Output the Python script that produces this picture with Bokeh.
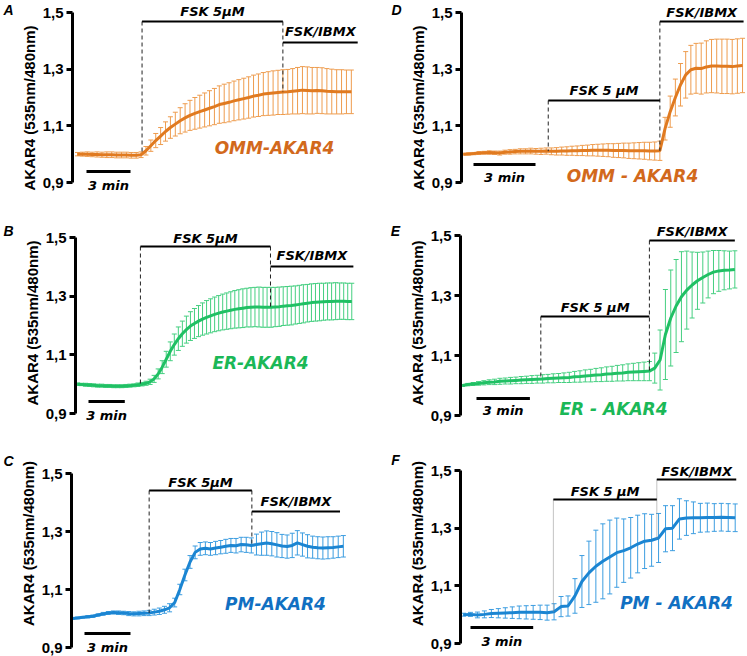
import numpy as np
from bokeh.plotting import figure
from bokeh.models import (Range1d, FixedTicker, CustomJSTickFormatter, Whisker,
                          TeeHead, ColumnDataSource)
from bokeh.layouts import column, row
from bokeh.core.properties import value
from bokeh.embed import file_html
from bokeh.resources import INLINE

# ------------------------------------------------------------------ data
# sampling interval (min), mean ratio and SEM for each panel
dt_A = 1 / 3
mean_A = [1.000, 1.000, 1.000, 0.999, 0.999, 0.998, 0.998, 0.998, 0.997, 0.997, 0.997, 0.996, 0.996, 0.998,
          1.012, 1.030, 1.048, 1.064, 1.080, 1.094, 1.106, 1.118, 1.128, 1.137, 1.144, 1.150, 1.156, 1.162, 1.168, 1.175,
          1.179, 1.183, 1.188, 1.192, 1.196, 1.200, 1.205, 1.208, 1.212, 1.214, 1.216, 1.218, 1.219,
          1.220, 1.222, 1.224, 1.226, 1.225, 1.224, 1.225, 1.224, 1.222, 1.221, 1.220, 1.220, 1.220, 1.220]
err_A = [0.006, 0.007, 0.008, 0.008, 0.009, 0.009, 0.010, 0.010, 0.010, 0.010, 0.010, 0.010, 0.010, 0.010,
         0.015, 0.020, 0.025, 0.030, 0.034, 0.038, 0.042, 0.046, 0.050, 0.053, 0.056, 0.058, 0.060, 0.062, 0.064, 0.066,
         0.068, 0.069, 0.070, 0.071, 0.072, 0.073, 0.074, 0.075, 0.076, 0.077, 0.078, 0.078, 0.079,
         0.079, 0.080, 0.082, 0.083, 0.083, 0.082, 0.081, 0.081, 0.080, 0.079, 0.078, 0.078, 0.077, 0.077]
treat_A = [4.4, 14.0, 19.1]   # FSK start, FSK/IBMX start, end (min)

dt_D = 0.25
mean_D = [1.000, 1.001, 1.002, 1.004, 1.005, 1.006, 1.005, 1.004, 1.007, 1.008, 1.009, 1.010, 1.010, 1.011, 1.010, 1.010, 1.011,
          1.010, 1.010, 1.011, 1.011, 1.012, 1.012, 1.013, 1.013, 1.014, 1.014, 1.014, 1.014, 1.013, 1.013, 1.013, 1.012,
          1.012, 1.012, 1.012, 1.011, 1.011, 1.012,
          1.090, 1.150, 1.200, 1.245, 1.280, 1.298, 1.303, 1.302, 1.308, 1.311, 1.311, 1.310, 1.310, 1.309, 1.311, 1.313]
err_D = [0.003, 0.004, 0.004, 0.005, 0.005, 0.006, 0.006, 0.007, 0.007, 0.008, 0.008, 0.009, 0.009, 0.010, 0.010, 0.011, 0.011,
         0.012, 0.013, 0.014, 0.015, 0.016, 0.017, 0.018, 0.019, 0.020, 0.021, 0.022, 0.023, 0.024, 0.025, 0.026, 0.027,
         0.028, 0.029, 0.030, 0.031, 0.032, 0.034,
         0.040, 0.055, 0.065, 0.075, 0.082, 0.086, 0.088, 0.090, 0.092, 0.094, 0.095, 0.096, 0.096, 0.096, 0.096, 0.096]
treat_D = [4.1, 9.5, 13.55]

dt_B = 1 / 3
mean_B = [1.000, 0.999, 0.998, 0.997, 0.996, 0.995, 0.995, 0.994, 0.994, 0.993, 0.993, 0.993, 0.994, 0.995, 0.996, 0.998, 1.000,
          1.003, 1.008, 1.018, 1.035, 1.058, 1.085, 1.112, 1.135, 1.155, 1.172, 1.186, 1.198, 1.207, 1.215, 1.222, 1.228,
          1.233, 1.238, 1.242, 1.246, 1.249, 1.252, 1.255, 1.257, 1.259, 1.261, 1.262, 1.263, 1.263, 1.262, 1.262, 1.262,
          1.263, 1.264, 1.266, 1.267, 1.268, 1.270, 1.272, 1.274, 1.276, 1.278, 1.279, 1.280, 1.281, 1.282, 1.282, 1.283,
          1.283, 1.283, 1.282, 1.282]
err_B = [0.004, 0.004, 0.005, 0.005, 0.005, 0.005, 0.005, 0.005, 0.005, 0.005, 0.005, 0.005, 0.005, 0.005, 0.005, 0.006, 0.006,
         0.007, 0.009, 0.012, 0.017, 0.022, 0.027, 0.032, 0.036, 0.040, 0.043, 0.046, 0.049, 0.051, 0.053, 0.055, 0.057,
         0.058, 0.059, 0.060, 0.061, 0.062, 0.063, 0.064, 0.065, 0.066, 0.066, 0.067, 0.067, 0.068, 0.068, 0.068, 0.068,
         0.067, 0.067, 0.066, 0.066, 0.066, 0.065, 0.065, 0.065, 0.064, 0.064, 0.064, 0.064, 0.063, 0.063, 0.063, 0.063,
         0.062, 0.062, 0.062, 0.062]
treat_B = [5.2, 15.95, 22.8]

dt_E = 0.3
mean_E = [1.000, 1.003, 1.005, 1.007, 1.009, 1.011, 1.012, 1.014, 1.015, 1.016, 1.017, 1.018, 1.019, 1.020, 1.021, 1.022,
          1.023, 1.024, 1.025, 1.026, 1.027, 1.029, 1.030, 1.032, 1.033, 1.035, 1.036, 1.038, 1.039, 1.041, 1.042, 1.044,
          1.045, 1.046, 1.047, 1.048,
          1.058, 1.085, 1.170, 1.225, 1.265, 1.296, 1.318, 1.335, 1.349, 1.360, 1.370, 1.378, 1.382, 1.384, 1.385, 1.387]
err_E = [0.003, 0.004, 0.005, 0.006, 0.007, 0.008, 0.009, 0.010, 0.010, 0.011, 0.011, 0.012, 0.012, 0.013, 0.013, 0.014,
         0.014, 0.015, 0.015, 0.016, 0.017, 0.018, 0.019, 0.020, 0.021, 0.022, 0.023, 0.024, 0.025, 0.026, 0.027, 0.028,
         0.029, 0.030, 0.031, 0.032,
         0.050, 0.100, 0.150, 0.160, 0.155, 0.150, 0.130, 0.110, 0.095, 0.085, 0.078, 0.072, 0.068, 0.065, 0.063, 0.062]
treat_E = [4.4, 10.5, 15.3]

dt_C = 1 / 3
mean_C = [1.000, 1.002, 1.004, 1.006, 1.008, 1.012, 1.016, 1.019, 1.021, 1.020, 1.019, 1.017, 1.016, 1.017, 1.018, 1.019,
          1.022, 1.025, 1.030, 1.037, 1.055, 1.100, 1.150, 1.195, 1.228, 1.240, 1.242, 1.240, 1.243, 1.246, 1.249, 1.252,
          1.251, 1.255, 1.254, 1.252,
          1.255, 1.258, 1.260, 1.258, 1.254, 1.250, 1.248, 1.252, 1.261, 1.255, 1.249, 1.246, 1.244, 1.243, 1.244, 1.245,
          1.247, 1.249]
err_C = [0.002, 0.003, 0.003, 0.004, 0.004, 0.004, 0.005, 0.005, 0.005, 0.006, 0.006, 0.007, 0.007, 0.008, 0.008, 0.009,
         0.010, 0.011, 0.012, 0.014, 0.015, 0.018, 0.020, 0.022, 0.022, 0.022, 0.022, 0.022, 0.023, 0.023, 0.024, 0.024,
         0.025, 0.025, 0.026, 0.026,
         0.036, 0.040, 0.042, 0.042, 0.042, 0.040, 0.040, 0.042, 0.042, 0.040, 0.040, 0.038, 0.038, 0.038, 0.038, 0.037,
         0.037, 0.037]
treat_C = [5.0, 11.7, 17.45]

dt_F = 1 / 3
mean_F = [1.000, 1.001, 0.999, 1.001, 1.004, 1.005, 1.006, 1.007, 1.008, 1.008, 1.008, 1.008, 1.007, 1.010,
          1.028, 1.030, 1.065, 1.115, 1.145, 1.168, 1.185, 1.200, 1.215, 1.222, 1.232, 1.245, 1.255, 1.258, 1.266,
          1.298, 1.300, 1.332, 1.335, 1.336, 1.336, 1.337, 1.337, 1.338, 1.337, 1.336]
err_F = [0.005, 0.007, 0.010, 0.012, 0.014, 0.016, 0.018, 0.020, 0.022, 0.023, 0.024, 0.025, 0.026, 0.028,
         0.035, 0.035, 0.060, 0.090, 0.110, 0.125, 0.130, 0.128, 0.120, 0.110, 0.105, 0.100, 0.095, 0.090, 0.085,
         0.080, 0.078, 0.070, 0.060, 0.055, 0.050, 0.050, 0.048, 0.048, 0.048, 0.048]
treat_F = [4.3, 9.25, 13.05]

y_ticks = [0.9, 1.1, 1.3, 1.5]
scale_min = 3

ORANGE = ("#E07A20", "#EE9C4E", "#D2691C")
GREEN = ("#20C064", "#45CF80", "#1BB857")
BLUE = ("#1B85D2", "#3C9DE0", "#1170C2")

# ------------------------------------------------------------------ layout
# column: origin (px), total width, width of the letter strip
COLS = [dict(ox=0, W=373, LW=16), dict(ox=373, W=374, LW=32)]
ROWS = [dict(oy=0, H=215), dict(oy=215, H=215), dict(oy=430, H=226)]

panels = [
    dict(key="A", mean=mean_A, err=err_A, dt=dt_A, treat=treat_A, name="OMM-AKAR4", fsk="FSK 5µM", colors=ORANGE,
         col=0, row=0, cal=(72, 77, 14.67, 12, 182), fsk_bar=21, ibmx_bar=42, fsk_txt=11, ibmx_txt=31,
         scale=(86, 171), scale_txt=185, name_xy=(274, 147), letter=(8, 9), dash=("4 3", "#222222")),
    dict(key="D", mean=mean_D, err=err_D, dt=dt_D, treat=treat_D, name="OMM - AKAR4", fsk="FSK 5 µM", colors=ORANGE,
         col=1, row=0, cal=(461, 463, 20.67, 12, 182), fsk_bar=100, ibmx_bar=21, fsk_txt=90, ibmx_txt=12,
         scale=(473, 164), scale_txt=177, name_xy=(632, 175), letter=(396, 9), dash=("4 3", "#222222")),
    dict(key="B", mean=mean_B, err=err_B, dt=dt_B, treat=treat_B, name="ER-AKAR4", fsk="FSK 5µM", colors=GREEN,
         col=0, row=1, cal=(75, 77, 12.1, 237, 413), fsk_bar=246, ibmx_bar=266, fsk_txt=238, ibmx_txt=255,
         scale=(88, 401), scale_txt=415, name_xy=(260, 362), letter=(8, 230), dash=("4 3", "#222222")),
    dict(key="E", mean=mean_E, err=err_E, dt=dt_E, treat=treat_E, name="ER - AKAR4", fsk="FSK 5 µM", colors=GREEN,
         col=1, row=1, cal=(460, 462, 17.8, 235, 415), fsk_bar=316, ibmx_bar=240, fsk_txt=307, ibmx_txt=231,
         scale=(476, 398), scale_txt=410, name_xy=(613, 408), letter=(395, 230), dash=("4 3", "#222222")),
    dict(key="C", mean=mean_C, err=err_C, dt=dt_C, treat=treat_C, name="PM-AKAR4", fsk="FSK 5µM", colors=BLUE,
         col=0, row=2, cal=(71, 72, 15.33, 473, 647), fsk_bar=490, ibmx_bar=511, fsk_txt=482, ibmx_txt=501,
         scale=(84, 633), scale_txt=647, name_xy=(275, 603), letter=(8, 460), dash=("4 3", "#222222")),
    dict(key="F", mean=mean_F, err=err_F, dt=dt_F, treat=treat_F, name="PM - AKAR4", fsk="FSK 5 µM", colors=BLUE,
         col=1, row=2, cal=(460, 463, 20.9, 470, 643), fsk_bar=499, ibmx_bar=479, fsk_txt=491, ibmx_txt=471,
         scale=(470, 627), scale_txt=641, name_xy=(676, 602), letter=(395, 459), dash=("1 1", "#888888")),
]

ITAL = dict(text_font=value("DejaVu Sans"), text_font_style="bold italic")


def bare(W, H, **kw):
    f = figure(width=W, height=H, min_border_left=0, min_border_right=0, min_border_top=0,
               min_border_bottom=0, toolbar_location=None, output_backend="svg", **kw)
    f.xgrid.visible = False
    f.ygrid.visible = False
    f.outline_line_color = None
    f.background_fill_color = "white"
    f.border_fill_color = "white"
    return f


def build(cfg):
    ax_x, t0x, ppm, y15, y09 = cfg["cal"]
    col, rw = COLS[cfg["col"]], ROWS[cfg["row"]]
    LW = col["LW"]
    ox, W = col["ox"] + LW, col["W"] - LW
    oy, H = rw["oy"], rw["H"]
    vpp = 0.6 / (y09 - y15)

    def X(px):
        return (px - t0x) / ppm

    def Y(py):
        return 1.5 - (py - y15) * vpp

    # --- letter strip
    lf = bare(LW, H, x_range=Range1d(0, LW), y_range=Range1d(H, 0))
    lf.axis.visible = False
    lx, ly = cfg["letter"]
    lf.text(x=[lx - col["ox"]], y=[ly - oy], text=[cfg["key"]], text_align="center", text_baseline="middle",
            text_font=value("Liberation Sans"), text_font_style="bold italic", text_font_size="14px",
            text_color="black")

    # --- main panel
    p = bare(W, H, x_range=Range1d(X(ax_x), X(ox + W)), y_range=Range1d(Y(oy + H), Y(oy)))
    p.min_border_left = ax_x - ox
    p.xaxis.visible = False

    ya = p.yaxis[0]
    ya.ticker = FixedTicker(ticks=y_ticks)
    ya.formatter = CustomJSTickFormatter(code="return tick.toFixed(1).replace('.', ',');")
    ya.bounds = (y_ticks[0], y_ticks[-1])
    ya.axis_line_width = 3
    ya.axis_line_color = "black"
    ya.major_tick_line_width = 3
    ya.major_tick_line_color = "black"
    ya.major_tick_out = 6
    ya.major_tick_in = 0
    ya.minor_tick_line_color = None
    ya.major_label_text_font = "Liberation Sans"
    ya.major_label_text_font_style = "bold"
    ya.major_label_text_font_size = "15px"
    ya.major_label_text_color = "black"
    ya.major_label_standoff = 3
    ya.axis_label = "AKAR4 (535nm/480nm)"
    ya.axis_label_text_font = "Liberation Sans"
    ya.axis_label_text_font_style = "bold"
    ya.axis_label_text_font_size = "15px"
    ya.axis_label_text_color = "black"
    ya.axis_label_standoff = 2

    line_c, bar_c, txt_c = cfg["colors"]
    m = np.array(cfg["mean"])
    e = np.array(cfg["err"])
    t = np.arange(len(m)) * cfg["dt"]
    src = ColumnDataSource(dict(t=t, m=m, lo=m - e, hi=m + e))
    wh = Whisker(source=src, base="t", upper="hi", lower="lo", line_color=bar_c, line_width=1,
                 upper_head=TeeHead(size=5, line_color=bar_c, line_width=1),
                 lower_head=TeeHead(size=5, line_color=bar_c, line_width=1), level="underlay")
    p.add_layout(wh)
    p.line("t", "m", source=src, line_width=3, line_color=line_c)

    t_fsk, t_ibmx, t_stop = cfg["treat"]
    yf, yi = Y(cfg["fsk_bar"]), Y(cfg["ibmx_bar"])
    dash, dcol = cfg["dash"]
    p.segment(x0=[t_fsk, t_ibmx], x1=[t_fsk, t_ibmx],
              y0=[yf, max(yf, yi)], y1=[np.interp(t_fsk, t, m), np.interp(t_ibmx, t, m)],
              line_dash=dash, line_width=1, line_color=dcol)
    p.segment(x0=[t_fsk, t_ibmx], x1=[t_ibmx, t_stop], y0=[yf, yi], y1=[yf, yi],
              line_width=2, line_color="black")
    p.text(x=[(t_fsk + t_ibmx) / 2, (t_ibmx + t_stop) / 2], y=[Y(cfg["fsk_txt"]), Y(cfg["ibmx_txt"])],
           text=[cfg["fsk"], "FSK/IBMX"], text_align="center", text_baseline="middle",
           text_font_size="13px", text_color="black", **ITAL)

    sx, sy = cfg["scale"]
    p.segment(x0=[X(sx)], x1=[X(sx) + scale_min], y0=[Y(sy)], y1=[Y(sy)], line_width=3, line_color="black")
    p.text(x=[X(sx) + scale_min / 2], y=[Y(cfg["scale_txt"])], text=[f"{scale_min} min"],
           text_align="center", text_baseline="middle", text_font_size="13px", text_color="black", **ITAL)

    nx, ny = cfg["name_xy"]
    p.text(x=[X(nx)], y=[Y(ny)], text=[cfg["name"]], text_align="center", text_baseline="middle",
           text_font_size="17px", text_color=txt_c, **ITAL)
    return row(lf, p)


figs = {c["key"]: build(c) for c in panels}
layout = column(row(figs["A"], figs["D"]), row(figs["B"], figs["E"]), row(figs["C"], figs["F"]))

open("out.html", "w").write(file_html(layout, INLINE))
